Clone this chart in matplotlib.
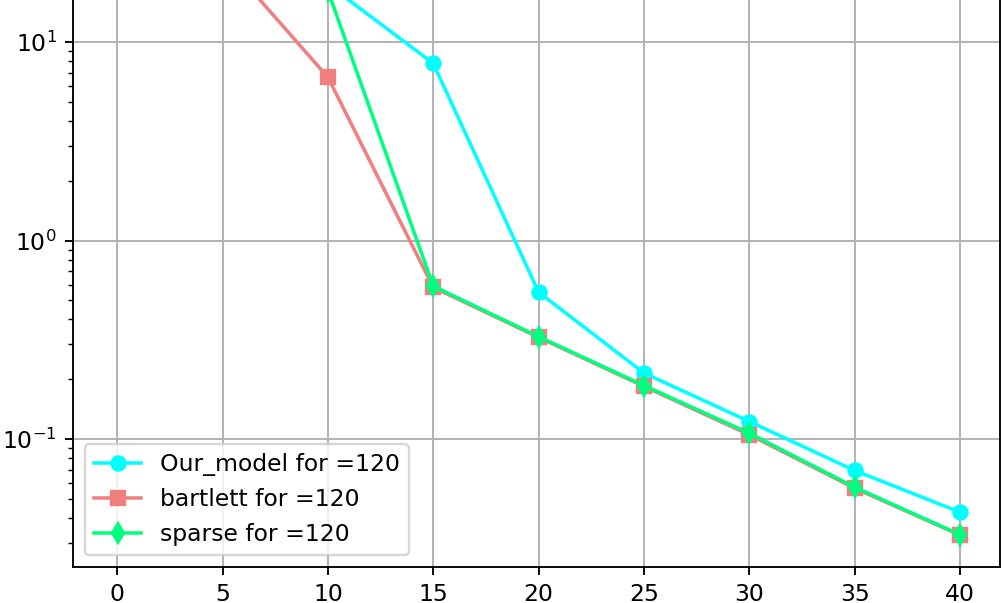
import matplotlib
matplotlib.use('Agg')
import matplotlib.pyplot as plt

steps = [0, 5, 10, 15, 20, 25, 30, 35, 40]
our_model = [300, 90, 19.5, 7.8, 0.549, 0.215, 0.1225, 0.0694, 0.0428]
bartlett = [110, 26.7, 6.64, 0.58, 0.325, 0.184, 0.105, 0.0565, 0.0328]
sparse = [250, 80, 18.1, 0.589, 0.328, 0.186, 0.107, 0.0572, 0.0330]

DPI = 169
fig = plt.figure(figsize=(1005 / DPI, 603 / DPI), dpi=DPI)
ax = fig.add_axes([73 / 1005, 36 / 603, 927 / 1005, 567 / 603])

ax.plot(steps, our_model, marker='o', color='cyan', label='Our_model for =120')
ax.plot(steps, bartlett, marker='s', color='lightcoral', label='bartlett for =120')
ax.plot(steps, sparse, marker='d', color='springgreen', label='sparse for =120')

ax.set_yscale('log')
ax.set_xlim(-2.1, 41.9)
ax.set_ylim(10 ** -1.6448, 10 ** 1.2116)
ax.spines['top'].set_visible(False)
ax.grid(True)
ax.legend(loc='lower left')

fig.savefig('out.png', dpi=DPI)
